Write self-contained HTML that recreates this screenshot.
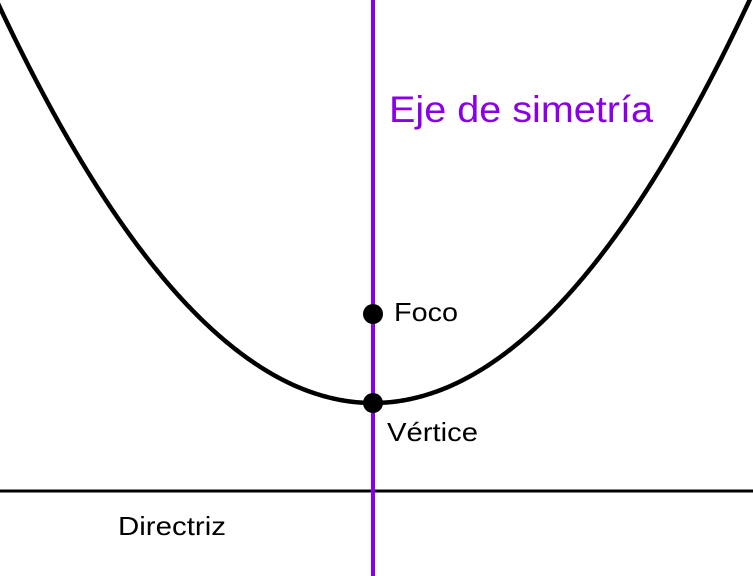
<!DOCTYPE html>
<html><head><meta charset="utf-8"><style>
html,body{margin:0;padding:0;background:#fff;}
svg{display:block;font-family:"Liberation Sans",sans-serif;}
</style></head><body>
<svg id="chart" width="753" height="576" viewBox="0 0 753 576">
<line x1="0" y1="491" x2="753" y2="491" stroke="#000" stroke-width="3"/>
<path id="curve" fill="none" stroke="#000" stroke-width="4.5"/>
<line x1="373" y1="0" x2="373" y2="576" stroke="#8a00e6" stroke-width="4"/>
<circle cx="373" cy="314" r="10" fill="#000"/>
<circle cx="373" cy="403" r="10" fill="#000"/>
<text x="389" y="122" font-size="37" fill="#8a00e6" textLength="264" lengthAdjust="spacingAndGlyphs">Eje de simetría</text>
<text x="394" y="321" font-size="26" fill="#000" textLength="64" lengthAdjust="spacingAndGlyphs">Foco</text>
<text x="387" y="441" font-size="26" fill="#000" textLength="91" lengthAdjust="spacingAndGlyphs">Vértice</text>
<text x="118" y="535" font-size="26" fill="#000" textLength="108" lengthAdjust="spacingAndGlyphs">Directriz</text>
</svg>
<script>
const vertex = [373, 403];
const focalDistance = [88];
const xRange = [-10, 763];
let d = '';
for (let x = xRange[0]; x <= xRange[1]; x += 2) {
  const y = vertex[1] - Math.pow(x - vertex[0], 2) / (4 * focalDistance[0]);
  d += (d ? 'L' : 'M') + x + ' ' + y.toFixed(2);
}
document.getElementById('curve').setAttribute('d', d);
</script>
</body></html>
